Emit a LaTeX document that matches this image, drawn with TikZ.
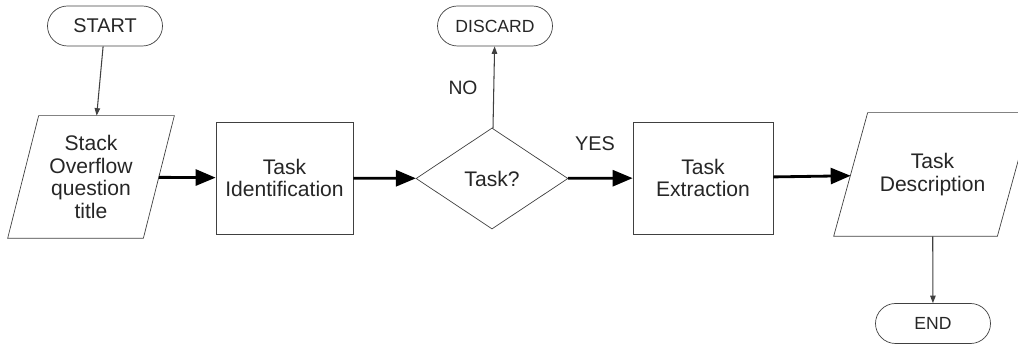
\documentclass[tikz,border=0pt]{standalone}
\usepackage{fontspec}
\setmainfont{Liberation Sans}
\usetikzlibrary{shapes.geometric,shapes.misc,arrows.meta,calc}

\tikzset{
  lbl/.style={font=\fontsize{12}{13}\selectfont, text=black!85, align=center, inner sep=0pt},
  term/.style={lbl, draw=black!75, rounded rectangle, minimum width=2.3cm, minimum height=0.8cm,
    font=\fontsize{10}{12}\selectfont},
  proc/.style={lbl, draw=black!75, rectangle, minimum height=2.24cm},
  io/.style={lbl, rectangle},
  ioline/.style={draw=black!75, line join=miter},
  thinarrow/.style={draw=black!75, line width=0.6pt, -{Triangle[length=0.15cm,width=0.11cm]}},
  thickarrow/.style={draw=black, line width=1.6pt, -{Triangle[length=0.4cm,width=0.32cm]}}
}

\begin{document}
\begin{tikzpicture}
\useasboundingbox (0,0) rectangle (20.36,6.88);

\node[term, font=\fontsize{11.3}{13}\selectfont] (start) at (2.1,6.36) {START};
\node[io, minimum width=2.7cm, minimum height=2.44cm] (title) at (1.82,3.34) {Stack\\Overflow\\question\\title};
\node[proc, minimum width=2.74cm] (ident) at (5.69,3.32) {Task\\Identification};
\node[lbl, draw=black!75, diamond, minimum width=3.04cm, minimum height=2.02cm] (task) at (9.84,3.31) {Task?};
\node[term] (discard) at (9.9,6.36) {DISCARD};
\node[lbl, font=\fontsize{11}{13}\selectfont] (no) at (9.26,5.12) {NO};
\node[lbl, font=\fontsize{11.3}{13}\selectfont] (yes) at (11.9,4.0) {YES};
\node[proc, minimum width=2.8cm] (extract) at (14.06,3.32) {Task\\Extraction};
\node[io, minimum width=3.26cm, minimum height=2.46cm] (desc) at (18.65,3.39) {Task\\Description};
\node[term] (end) at (18.66,0.41) {END};

%% slanted input/output boxes
\draw[ioline] ($(title.north west)+(0.31,0)$) -- ($(title.north east)+(0.31,0)$)
  -- ($(title.south east)-(0.31,0)$) -- ($(title.south west)-(0.31,0)$) -- cycle;
\draw[ioline] ($(desc.north west)+(0.34,0)$) -- ($(desc.north east)+(0.34,0)$)
  -- ($(desc.south east)-(0.34,0)$) -- ($(desc.south west)-(0.34,0)$) -- cycle;

\draw[thinarrow] (start) -- (title);
\draw[thickarrow] (title) -- (ident);
\draw[thickarrow] (ident) -- (task);
\draw[thinarrow] (task) -- (discard); %% NO branch
\draw[thickarrow] (task) -- (extract); %% YES branch
\draw[thickarrow] (extract) -- (desc);
\draw[thinarrow] (desc) -- (end);
\end{tikzpicture}
\end{document}
